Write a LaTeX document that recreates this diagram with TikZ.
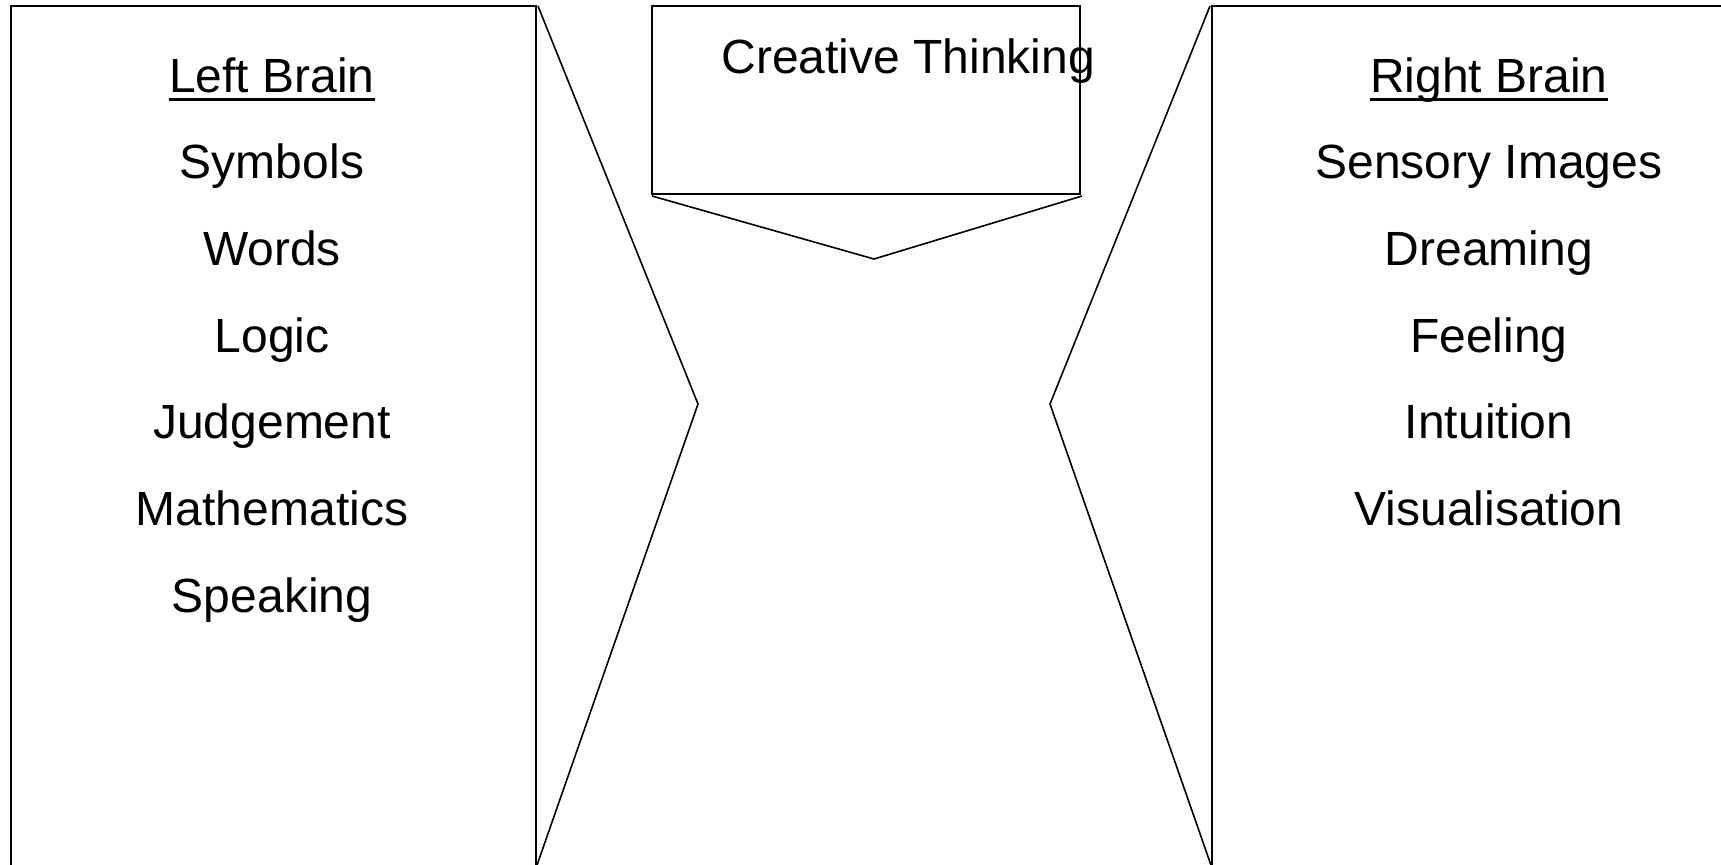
\documentclass[tikz,border=0pt]{standalone}
\usepackage{fontspec}
\setmainfont{Liberation Sans}
\usetikzlibrary{positioning}
\tikzset{
  panel/.style={draw=black,line width=0.8pt},
  item/.style={font=\fontsize{24}{28}\selectfont,inner sep=0pt,anchor=base},
  uline/.style={line width=1.5pt}
}

\begin{document}
\begin{tikzpicture}[x=0.5pt,y=-0.5pt]
  \useasboundingbox (0,0) rectangle (1721,864);
  \clip (0,0) rectangle (1721,864);
  % side panels and chevrons
  \draw[panel] (11,900) -- (11,6) -- (536,6) -- (536,900);
  \draw[panel] (538,6) -- (698,404) -- (536,868);
  \draw[panel] (1210,6) -- (1050,404) -- (1212,868);
  \draw[panel] (1212,900) -- (1212,6) -- (1730,6);
  % centre box
  \draw[panel] (652,6) rectangle (1080,194);
  \draw[panel] (652,196) -- (874,259) -- (1082,196);
  \node[item,anchor=base west] (ct) at (721,73) {Creative Thinking};
  % left column
  \node[item] (lhead) at (272,92) {Left Brain};
  \draw[uline] ([yshift=-3.5pt]lhead.base west) -- ([yshift=-3.5pt]lhead.base east);
  \foreach \txt [count=\i] in {Symbols,Words,Logic,Judgement,Mathematics,Speaking}
    \node[item] (l\i) at (272,92+86.7*\i) {\txt};
  % right column
  \node[item] (rhead) at (1489,92) {Right Brain};
  \draw[uline] ([yshift=-3.5pt]rhead.base west) -- ([yshift=-3.5pt]rhead.base east);
  \foreach \txt [count=\i] in {Sensory Images,Dreaming,Feeling,Intuition,Visualisation}
    \node[item] (r\i) at (1489,92+86.7*\i) {\txt};
\end{tikzpicture}
\end{document}
